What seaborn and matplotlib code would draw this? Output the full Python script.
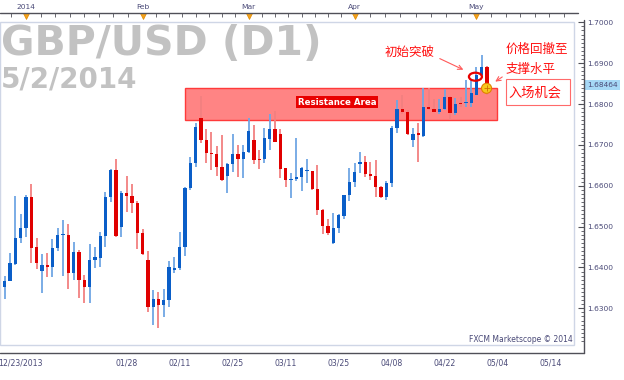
import numpy as np
import pandas as pd
import matplotlib
matplotlib.use("Agg")
import matplotlib.pyplot as plt
import matplotlib.transforms as mtrans
import seaborn as sns
from matplotlib.patches import Rectangle, Ellipse
from matplotlib.lines import Line2D
from matplotlib.ticker import MultipleLocator, FixedLocator, FormatStrFormatter

# daily GBP/USD candles
opens = [1.6338, 1.6353, 1.6368, 1.6408, 1.6473, 1.6496, 1.6572, 1.6449, 1.6392, 1.6406,
         1.6401, 1.6447, 1.6479, 1.6479, 1.6386, 1.6439, 1.6369, 1.6353, 1.6418, 1.6424,
         1.6477, 1.6572, 1.6638, 1.6500, 1.6583, 1.6575, 1.6558, 1.6485, 1.6418, 1.6304,
         1.6324, 1.6308, 1.6320, 1.6394, 1.6399, 1.6449, 1.6594, 1.6655, 1.6765, 1.6712,
         1.6681, 1.6677, 1.6647, 1.6624, 1.6652, 1.6677, 1.6665, 1.6683, 1.6712, 1.6665,
         1.6665, 1.6714, 1.6738, 1.6726, 1.6643, 1.6614, 1.6616, 1.6622, 1.6635, 1.6636,
         1.6591, 1.6541, 1.6501, 1.6459, 1.6496, 1.6527, 1.6577, 1.6608, 1.6653, 1.6659,
         1.6629, 1.6623, 1.6598, 1.6573, 1.6606, 1.6742, 1.6789, 1.6781, 1.6712, 1.6728,
         1.6722, 1.6793, 1.6789, 1.6781, 1.6787, 1.6818, 1.6779, 1.6802, 1.6802, 1.6802,
         1.6822, 1.6871, 1.6891]
highs = [1.6362, 1.6380, 1.6436, 1.6576, 1.6531, 1.6577, 1.6604, 1.6473, 1.6432, 1.6436,
         1.6470, 1.6496, 1.6516, 1.6506, 1.6463, 1.6443, 1.6382, 1.6457, 1.6451, 1.6486,
         1.6585, 1.6641, 1.6665, 1.6587, 1.6624, 1.6604, 1.6563, 1.6494, 1.6440, 1.6344,
         1.6341, 1.6347, 1.6416, 1.6426, 1.6486, 1.6598, 1.6670, 1.6754, 1.6820, 1.6738,
         1.6732, 1.6697, 1.6724, 1.6655, 1.6726, 1.6700, 1.6700, 1.6765, 1.6749, 1.6687,
         1.6741, 1.6776, 1.6784, 1.6738, 1.6644, 1.6632, 1.6716, 1.6647, 1.6665, 1.6637,
         1.6651, 1.6542, 1.6518, 1.6534, 1.6530, 1.6578, 1.6644, 1.6655, 1.6683, 1.6673,
         1.6659, 1.6663, 1.6600, 1.6612, 1.6746, 1.6810, 1.6822, 1.6785, 1.6741, 1.6753,
         1.6838, 1.6838, 1.6812, 1.6812, 1.6836, 1.6820, 1.6814, 1.6818, 1.6859, 1.6860,
         1.6890, 1.6920, 1.6892]
lows = [1.6330, 1.6323, 1.6367, 1.6406, 1.6461, 1.6475, 1.6412, 1.6395, 1.6337, 1.6376,
        1.6376, 1.6441, 1.6380, 1.6347, 1.6369, 1.6325, 1.6314, 1.6312, 1.6398, 1.6402,
        1.6451, 1.6559, 1.6475, 1.6474, 1.6536, 1.6533, 1.6446, 1.6430, 1.6292, 1.6259,
        1.6253, 1.6278, 1.6303, 1.6386, 1.6394, 1.6428, 1.6590, 1.6646, 1.6705, 1.6655,
        1.6638, 1.6624, 1.6612, 1.6583, 1.6634, 1.6621, 1.6618, 1.6679, 1.6653, 1.6640,
        1.6656, 1.6687, 1.6707, 1.6620, 1.6596, 1.6569, 1.6612, 1.6588, 1.6607, 1.6590,
        1.6528, 1.6481, 1.6479, 1.6458, 1.6484, 1.6518, 1.6563, 1.6598, 1.6630, 1.6621,
        1.6614, 1.6572, 1.6569, 1.6565, 1.6598, 1.6728, 1.6776, 1.6725, 1.6696, 1.6659,
        1.6720, 1.6785, 1.6780, 1.6776, 1.6785, 1.6761, 1.6773, 1.6793, 1.6793, 1.6793,
        1.6821, 1.6867, 1.6822]
closes = [1.6352, 1.6368, 1.6411, 1.6473, 1.6497, 1.6572, 1.6447, 1.6412, 1.6406, 1.6401,
          1.6448, 1.6479, 1.6482, 1.6386, 1.6439, 1.6369, 1.6353, 1.6418, 1.6426, 1.6477,
          1.6573, 1.6638, 1.6477, 1.6583, 1.6575, 1.6558, 1.6484, 1.6434, 1.6304, 1.6324,
          1.6308, 1.6320, 1.6402, 1.6399, 1.6449, 1.6595, 1.6656, 1.6743, 1.6712, 1.6679,
          1.6677, 1.6647, 1.6614, 1.6652, 1.6677, 1.6665, 1.6683, 1.6735, 1.6663, 1.6663,
          1.6716, 1.6738, 1.6708, 1.6641, 1.6614, 1.6617, 1.6622, 1.6643, 1.6637, 1.6591,
          1.6541, 1.6501, 1.6484, 1.6496, 1.6528, 1.6577, 1.6608, 1.6634, 1.6659, 1.6629,
          1.6623, 1.6596, 1.6573, 1.6606, 1.6742, 1.6789, 1.6781, 1.6726, 1.6726, 1.6723,
          1.6793, 1.6787, 1.6781, 1.6787, 1.6818, 1.6779, 1.6799, 1.6799, 1.6806, 1.6826,
          1.6871, 1.6891, 1.68464]

date_tick_pos = [4, 14, 24, 34, 44, 54, 64, 74, 84, 94, 104]
date_tick_labels = ['12/23/2013', '', '01/28', '02/11', '02/25', '03/11',
                    '03/25', '04/08', '04/22', '05/04', '05/14']
month_pos = [5, 27, 47, 67, 90]
month_labels = ['2014', 'Feb', 'Mar', 'Apr', 'May']
last_price = 1.68464
zone_low, zone_high = 1.6762, 1.6840

df = pd.DataFrame({'open': opens, 'high': highs, 'low': lows, 'close': closes})
df['x'] = np.arange(len(df))
df['up'] = df['close'] >= df['open']

sns.set_theme(style='white')
plt.rcParams['font.family'] = ['DejaVu Sans']

W, H = 624, 380
def fx(px):
    return px / W
def fy(py):
    return 1 - py / H

blue_body, blue_wick = '#0a5ec8', '#6fa6e4'
red_body, red_wick = '#e00000', '#f28080'
lab_c = '#4a4a78'
axis_c = '#505058'

fig = plt.figure(figsize=(6.24, 3.8), dpi=100)
ax = fig.add_axes([0, fy(345), fx(574), (345 - 22) / H])
ax.set_facecolor('white')
ax.set_xlim(0.094, 108.4)
ax.set_ylim(1.62102, 1.70007)

# resistance zone
ax.add_patch(Rectangle((35.0, zone_low), 58.9, zone_high - zone_low,
                       fc='#ff8484', ec='#ff3a3a', lw=1, zorder=1))
ax.text(63.7, 1.6804, 'Resistance Area', color='white', fontsize=6.2,
        weight='bold', ha='center', va='center', zorder=2,
        bbox=dict(boxstyle='square,pad=0.18', fc='#e80000', ec='none'))

# candles
wick_c = np.where(df['up'], blue_wick, red_wick)
body_c = np.where(df['up'], blue_body, red_body)
ax.vlines(df['x'], df['low'], df['high'], colors=wick_c, lw=1.3, zorder=3)
body_lo = df[['open', 'close']].min(axis=1)
body_h = (df['close'] - df['open']).abs().clip(lower=0.0003)
ax.bar(df['x'], body_h, bottom=body_lo, width=0.62, color=body_c,
       linewidth=0, zorder=4)

# frame of the plot area
ax.add_patch(Rectangle((0, 0), 1, 1, transform=ax.transAxes, fill=False,
                       ec='#cfd6e6', lw=1, clip_on=False, zorder=10))
for s in ax.spines.values():
    s.set_color('none')

# right price axis
ax.spines['right'].set_position(('axes', 584 / 574))
ax.yaxis.tick_right()
ax.yaxis.set_major_locator(MultipleLocator(0.01))
ax.yaxis.set_minor_locator(MultipleLocator(0.001))
ax.yaxis.set_major_formatter(FormatStrFormatter('%.4f'))
ax.tick_params(axis='y', which='major', direction='in', length=4, width=0.8,
               color=axis_c, labelsize=5.4, labelcolor=lab_c, pad=2)
ax.tick_params(axis='y', which='minor', direction='in', length=2, width=0.6,
               color=axis_c)

# bottom date axis
ax.spines['bottom'].set_position(('axes', -8 / 323))
ax.xaxis.set_major_locator(FixedLocator(date_tick_pos))
ax.xaxis.set_ticklabels(date_tick_labels)
ax.xaxis.set_minor_locator(FixedLocator(np.arange(-6, 110, 1.25)))
ax.tick_params(axis='x', which='major', direction='in', length=6, width=0.8,
               color=axis_c, labelsize=5.6, labelcolor=lab_c, pad=4)
ax.tick_params(axis='x', which='minor', direction='in', length=2.5, width=0.6,
               color=axis_c)
ax.tick_params(left=False, labelleft=False)

# top month axis
top = ax.secondary_xaxis((345 - 13) / 323)
top.spines['top'].set_color('none')
top.xaxis.set_major_locator(FixedLocator(month_pos))
top.xaxis.set_ticklabels(month_labels)
mp = np.array(month_pos, dtype=float)
top_minor = []
for a, b in zip(mp[:-1], mp[1:]):
    top_minor += list(np.linspace(a, b, 9)[1:-1])
step = (mp[1] - mp[0]) / 8
top_minor += list(np.arange(mp[0] - step, -1, -step))
top_minor += list(np.arange(mp[-1] + step, 110, step))
top.xaxis.set_minor_locator(FixedLocator(top_minor))
top.tick_params(axis='x', which='major', direction='in', length=3, width=0.8,
                color=axis_c, labelsize=5.4, labelcolor=lab_c, pad=2)
top.tick_params(axis='x', which='minor', direction='in', length=3, width=0.6,
                color=axis_c)
tr = mtrans.blended_transform_factory(ax.transData, ax.transAxes)
ax.plot(month_pos[:], [(345 - 15.5) / 323] * len(month_pos), 'v', ms=4.5,
        color='#f5a21a', mec='#e08a00', mew=0.5, transform=tr, clip_on=False,
        zorder=11)

# axis lines
fig.add_artist(Line2D([fx(0), fx(584)], [fy(353), fy(353)], color=axis_c, lw=1))
fig.add_artist(Line2D([fx(584), fx(584)], [fy(20), fy(353)], color=axis_c, lw=1))
fig.add_artist(Line2D([fx(0), fx(578)], [fy(13), fy(13)], color=axis_c, lw=1))

# last price tag
trp = mtrans.blended_transform_factory(ax.transAxes, ax.transData)
ax.text(587 / 574, last_price, f'{last_price:.5f}', transform=trp, ha='left',
        va='center', fontsize=5.4, color=lab_c, clip_on=False, zorder=12,
        bbox=dict(boxstyle='square,pad=0.25', fc='#a6d8f6', ec='none'))

# watermark
fig.text(fx(1), fy(55), 'GBP/USD (D1)', fontsize=29.5, weight='bold',
         color='#c2c2c2', ha='left', va='baseline')
fig.text(fx(1), fy(88), '5/2/2014', fontsize=20, weight='bold',
         color='#c2c2c2', ha='left', va='baseline')
fig.text(fx(573), fy(340), 'FXCM Marketscope \u00a9 2014', fontsize=5.5,
         color=lab_c, ha='right', va='center')

# annotations
cjk = ['Noto Sans CJK SC', 'DejaVu Sans']
ax.text(77.45, 1.69273, '初始突破', family=cjk, fontsize=9, color='#ff1010',
        ha='center', va='center', zorder=12)
ax.annotate('', xy=(88.0, 1.6881), xytext=(82.6, 1.6914),
            arrowprops=dict(arrowstyle='->', color='#ff5a5a', lw=0.8,
                            mutation_scale=8), zorder=12)
ax.add_patch(Ellipse((89.8, 1.68668), 2.45, 0.00196, fill=False, ec='#e80000',
                     lw=1.6, zorder=12))
ax.add_patch(Ellipse((91.9, 1.68384), 1.9, 0.00245, fc='#f7c81c', ec='#e08000',
                     lw=0.8, zorder=12))
ax.plot([91.9], [1.68384], '+', ms=5, color='#d07000', mew=0.6, zorder=13)
ax.text(95.4, 1.69346, '价格回撤至', family=cjk, fontsize=9, color='#ff1010',
        ha='left', va='center', zorder=12, clip_on=False)
ax.text(95.4, 1.68857, '支撑水平', family=cjk, fontsize=9, color='#ff1010',
        ha='left', va='center', zorder=12, clip_on=False)
ax.annotate('', xy=(93.1, 1.6851), xytext=(95.3, 1.6870),
            arrowprops=dict(arrowstyle='->', color='#ff5a5a', lw=0.8,
                            mutation_scale=8), zorder=12)
ax.add_patch(Rectangle((95.6, 1.67976), 12.0, 0.00636, fc='white',
                       ec='#ff6a6a', lw=0.8, zorder=11))
ax.text(96.0, 1.68269, '入场机会', family=cjk, fontsize=9.5, color='#ff1010',
        ha='left', va='center', zorder=12)

fig.savefig('out.png', dpi=100)
plt.close(fig)
